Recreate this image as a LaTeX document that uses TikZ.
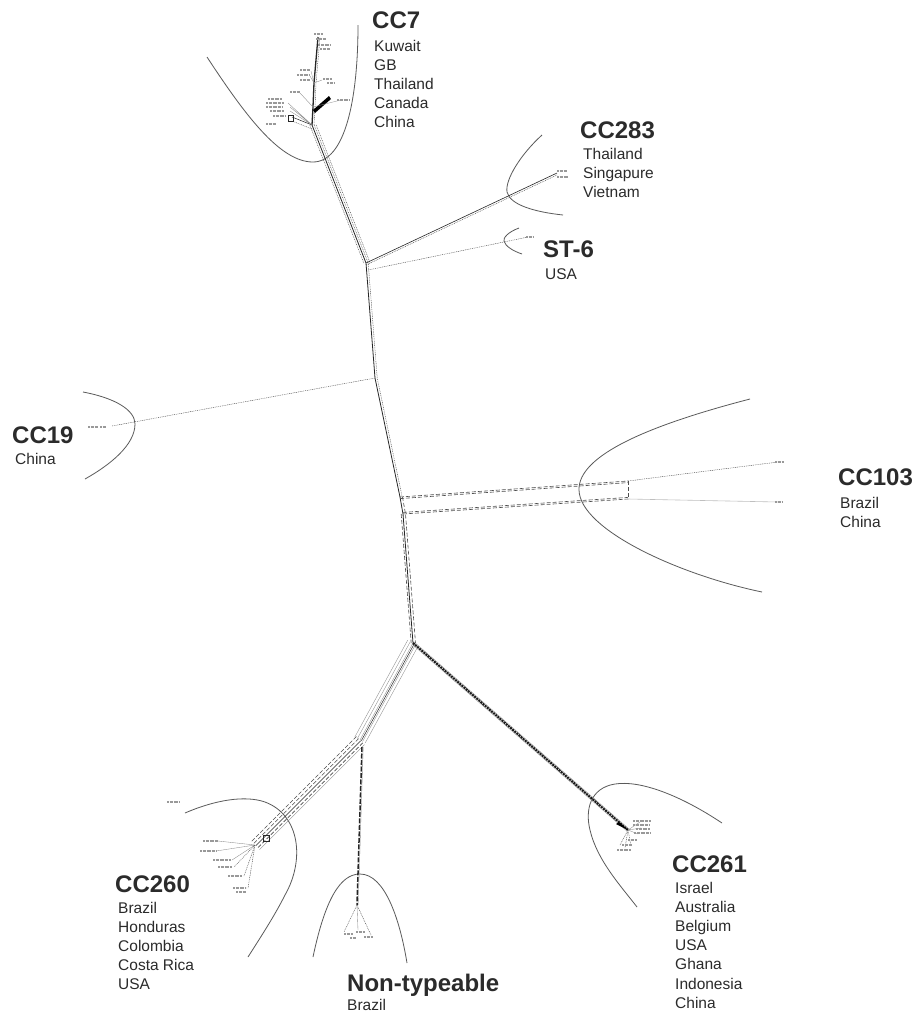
\documentclass[tikz,border=0pt]{standalone}
\usepackage{fontspec}
\setmainfont{Liberation Sans}
\usetikzlibrary{calc}
\definecolor{txt}{HTML}{2B2B2B}
\definecolor{arc}{HTML}{5A5A5A}
\newcommand\netband[4]{\draw[#1] ($(#2)!#4!90:(#3)$) -- ($(#3)!#4!-90:(#2)$);}
\newcommand\tinylab[3]{\draw[tiny] (#1,#2) -- ++(#3,0);}
\begin{document}
\begin{tikzpicture}[x=1pt,y=-1pt,
 cc/.style={anchor=base west,inner sep=0,text=txt,font=\bfseries\fontsize{24}{28}\selectfont},
 ctry/.style={anchor=base west,inner sep=0,text=txt,font=\fontsize{15.5}{19}\selectfont},
 hull/.style={draw=arc,line width=0.8pt},
 edge/.style={draw=black!85,line width=0.5pt},
 thin/.style={draw=black!45,line width=0.35pt},
 dot/.style={draw=black!70,line width=0.45pt,dash pattern=on 0.9pt off 0.9pt},
 dsh/.style={draw=black!70,line width=0.6pt,dash pattern=on 4pt off 2pt},
 rope/.style={draw=black!90,line width=2.2pt,dash pattern=on 2pt off 0.8pt},
 tiny/.style={draw=black!40,line width=1.2pt,dash pattern=on 0.8pt off 0.5pt},
]
\fill[white] (0,0) rectangle (916,1013);
\useasboundingbox (0,0) rectangle (916,1013);

% ---------- network vertices ----------
\coordinate (c7a) at (312,125);
\coordinate (c7m2) at (313,107);
\coordinate (c7m1) at (314,83);
\coordinate (c7top) at (318,37);
\coordinate (j1) at (366,263);
\coordinate (j1b) at (368,270);
\coordinate (j2) at (375,378);
\coordinate (j3) at (400,497);
\coordinate (j3b) at (403,514);
\coordinate (j4) at (413,643);
\coordinate (j5) at (360,740);
\coordinate (j5b) at (362,747);
\coordinate (c260) at (255,845);
\coordinate (nt) at (357,905);
\coordinate (c261) at (628,830);
\coordinate (c283) at (557,173);
\coordinate (st6) at (528,237);
\coordinate (c19) at (112,426);
\coordinate (c103a) at (628,481);
\coordinate (c103b) at (628,499);
\coordinate (c103t1) at (778,462);
\coordinate (c103t2) at (778,502);

% ---------- hulls ----------
\draw[hull] (207,57) .. controls (245,115) and (280,162) .. (313,162) .. controls (345,162) and (358,100) .. (358,25);
\draw[hull] (542,135) .. controls (520,155) and (505,180) .. (507,192) .. controls (510,205) and (535,212) .. (563,215);
\draw[hull] (519,228) .. controls (508,232) and (503,238) .. (504,241) .. controls (505,246) and (513,251) .. (522,254);
\draw[hull] (83,392) .. controls (115,398) and (135,410) .. (135,424) .. controls (135,445) and (110,465) .. (85,479);
\draw[hull] (750,399) .. controls (650,425) and (578,455) .. (579,490) .. controls (580,530) and (680,575) .. (762,592);
\draw[hull] (185,813) .. controls (215,800) and (245,795) .. (265,802) .. controls (300,815) and (305,860) .. (285,895) .. controls (275,915) and (262,935) .. (248,957);
\draw[hull] (313,957) .. controls (325,900) and (340,874) .. (360,874) .. controls (385,874) and (400,920) .. (407,963);
\draw[hull] (722,823) .. controls (680,795) and (640,780) .. (615,784) .. controls (590,788) and (585,810) .. (590,830) .. controls (597,860) and (620,885) .. (637,907);

% ---------- trunk ----------
\draw[edge,line width=0.8pt] (c7a) -- (j1) -- (j2) -- (j3) -- (j3b) -- (j4);
\draw[dot,transform canvas={xshift=2.2pt}] (c7a) -- (j1) -- (j2) -- (j3);
\draw[dot,transform canvas={xshift=-2.2pt}] (c7a) -- (j1);
\draw[dot,transform canvas={xshift=4.2pt}] (c7a) -- (j1);
\draw[dsh,transform canvas={xshift=2.5pt}] (j3) -- (j3b) -- (j4);
\draw[dsh,transform canvas={xshift=-1.8pt}] (j3b) -- (j4);

% ---------- CC7 cluster ----------
\draw[edge,line width=1.3pt] (c7a) -- (c7m2) -- (c7m1) -- (c7top);
\draw[dot,transform canvas={xshift=2pt}] (c7a) -- (c7m2) -- (c7m1) -- (c7top);
\draw[edge] (c7a) -- (292,117);
\draw[dot] ($(c7a)+(0,4)$) -- (292,121);
\draw[edge] (288,115) rectangle (293,121);
\fill[black] ($(c7m2)+(0,3)$) -- (329,96) -- (331,99) -- ($(c7m2)+(2,6)$) -- cycle;
\draw[thin] (c7m2) -- (341,100);
\draw[thin] (c7m2) -- (300,93);
\draw[thin] (c7m1) -- (311,71) (c7m1) -- (310,76) (c7m1) -- (322,80);
\draw[thin] (c7a) -- (290,107) (c7a) -- (290,111) (c7a) -- (288,103);
\tinylab{314}{34}{8}\tinylab{316}{39}{10}
\tinylab{318}{45}{12}\tinylab{320}{49}{10}
\tinylab{300}{70}{10}\tinylab{297}{75}{12}\tinylab{300}{80}{10}
\tinylab{323}{79}{9}\tinylab{327}{83}{7}
\tinylab{337}{100}{12}\tinylab{290}{92}{10}
\tinylab{268}{99}{14}\tinylab{266}{103}{18}\tinylab{266}{107}{16}
\tinylab{270}{111}{14}\tinylab{273}{116}{12}\tinylab{266}{124}{10}

% ---------- CC283 and ST-6 ----------
\draw[edge,line width=0.6pt] (j1) -- (c283);
\draw[dot,transform canvas={yshift=-2pt}] (j1) -- (c283);
\draw[dot] (j1b) -- (st6);
\tinylab{557}{171}{10}\tinylab{557}{177}{11}
\tinylab{526}{237}{7}

% ---------- CC19 ----------
\draw[dot] (j2) -- (c19);
\tinylab{88}{427}{10}\tinylab{100}{427}{6}

% ---------- CC103 ----------
\draw[dsh] (j3) -- (c103a);
\draw[dsh,transform canvas={yshift=-1.6pt}] (j3) -- (c103a);
\draw[dsh] (j3b) -- (c103b);
\draw[dsh,transform canvas={yshift=1.6pt}] (j3b) -- (c103b);
\draw[dsh] (c103a) -- (c103b);
\draw[dot] (c103a) -- (c103t1);
\draw[draw=black!25,line width=0.6pt] (c103b) -- (c103t2);
\tinylab{775}{462}{8}\tinylab{775}{502}{7}

% ---------- lower part ----------
\foreach \o in {-6pt,-3pt,0pt,3pt,6pt}{\netband{thin}{j4}{j5}{\o}}
\netband{edge}{j4}{j5}{1.5pt}
\foreach \o in {-5pt,-2pt,4pt}{\netband{dsh}{j5}{c260}{\o}}
\netband{edge}{j5}{c260}{1pt}
\netband{thin}{j5}{c260}{6.5pt}

\draw[rope] (j4) -- (c261);
\netband{thin}{j4}{c261}{1.5pt}
\netband{thin}{j4}{c261}{-1.5pt}

\draw[draw=black!85,line width=1.5pt,dash pattern=on 5pt off 1.5pt] (j5b) -- (nt);
\netband{thin}{j5b}{nt}{1.2pt}

% CC260 fan
\draw[edge] ($(c260)+(8,-10)$) rectangle ++(6,6);
\draw[thin] (c260) -- (218,841) (c260) -- (216,851) (c260) -- (232,860);
\draw[dot] (c260) -- (234,867) (c260) -- (244,876) (c260) -- (248,888);
\tinylab{203}{841}{15}\tinylab{200}{851}{16}\tinylab{213}{860}{17}
\tinylab{218}{867}{14}\tinylab{228}{876}{14}\tinylab{233}{888}{13}\tinylab{236}{892}{10}
\tinylab{167}{802}{12}

% NT fan
\draw[dot] (nt) -- (344,932) (nt) -- (371,935);
\draw[thin] (nt) -- (358,930);
\tinylab{344}{934}{8}\tinylab{356}{932}{8}\tinylab{364}{937}{8}\tinylab{350}{938}{6}

% CC261 fan
\fill[black] (c261) -- ++(-12,-6) -- ++(3,-2) -- cycle;
\draw[thin] (c261) -- (640,822) (c261) -- (641,828) (c261) -- (638,834);
\draw[dot] (c261) -- (620,845) (c261) -- (625,848) (c261) -- (631,846);
\tinylab{633}{821}{18}\tinylab{633}{825}{16}\tinylab{636}{829}{14}\tinylab{634}{833}{16}
\tinylab{628}{840}{8}\tinylab{622}{845}{10}\tinylab{617}{850}{14}

% ---------- labels ----------
\node[cc] (t7) at (372,28) {CC7};
\foreach \t [count=\i] in {Kuwait,GB,Thailand,Canada,China}
  \node[ctry] (l7-\i) at (374,{51+19*(\i-1)}) {\t};
\node[cc] (t283) at (580,138) {CC283};
\foreach \t [count=\i] in {Thailand,Singapure,Vietnam}
  \node[ctry] (l283-\i) at (583,{159+19*(\i-1)}) {\t};
\node[cc] (t6) at (543,257) {ST-6};
\node[ctry] (l6) at (545,279) {USA};
\node[cc] (t19) at (12,443) {CC19};
\node[ctry] (l19) at (15,464) {China};
\node[cc] (t103) at (838,485) {CC103};
\foreach \t [count=\i] in {Brazil,China}
  \node[ctry] (l103-\i) at (840,{508+19*(\i-1)}) {\t};
\node[cc] (t260) at (115,892) {CC260};
\foreach \t [count=\i] in {Brazil,Honduras,Colombia,Costa Rica,USA}
  \node[ctry] (l260-\i) at (118,{913+19*(\i-1)}) {\t};
\node[cc] (tnt) at (347,991) {Non-typeable};
\node[ctry] (lnt) at (347,1010) {Brazil};
\node[cc] (t261) at (672,872) {CC261};
\foreach \t [count=\i] in {Israel,Australia,Belgium,USA,Ghana,Indonesia,China}
  \node[ctry] (l261-\i) at (675,{893+19.2*(\i-1)}) {\t};
\end{tikzpicture}
\end{document}
